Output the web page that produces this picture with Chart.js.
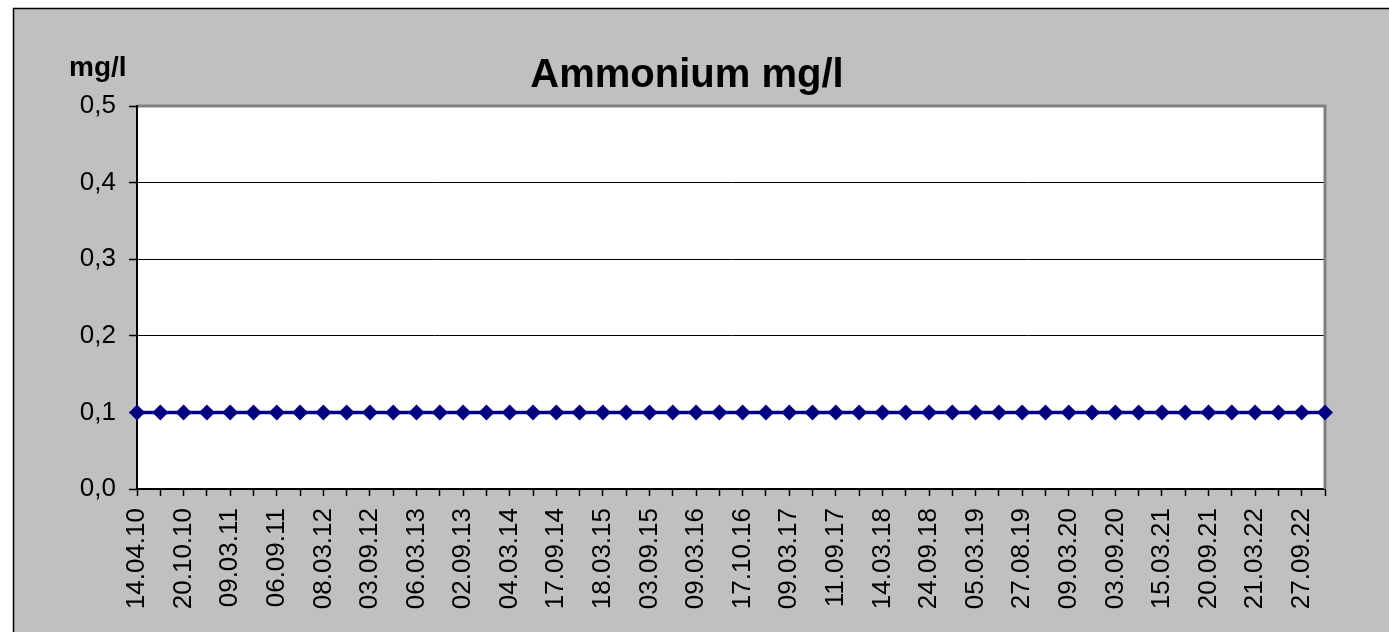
<!DOCTYPE html>
<html>
<head>
<meta charset="utf-8">
<script src="https://cdn.jsdelivr.net/npm/chart.js@4"></script>
<style>
	html, body { margin: 0; padding: 0; background: #fff; }
</style>
</head>
<body>
<canvas id="myChart" width="1389" height="632"></canvas>
<script>
	// sampling dates shown on the axis (every second point is labelled)
	const dateLabels = ['14.04.10', '20.10.10', '09.03.11', '06.09.11', '08.03.12', '03.09.12', '06.03.13', '02.09.13',
		'04.03.14', '17.09.14', '18.03.15', '03.09.15', '09.03.16', '17.10.16', '09.03.17', '11.09.17',
		'14.03.18', '24.09.18', '05.03.19', '27.08.19', '09.03.20', '03.09.20', '15.03.21', '20.09.21',
		'21.03.22', '27.09.22'];
	const ammonium = [0.1, 0.1, 0.1, 0.1, 0.1, 0.1, 0.1, 0.1, 0.1, 0.1, 0.1, 0.1, 0.1,
		0.1, 0.1, 0.1, 0.1, 0.1, 0.1, 0.1, 0.1, 0.1, 0.1, 0.1, 0.1, 0.1,
		0.1, 0.1, 0.1, 0.1, 0.1, 0.1, 0.1, 0.1, 0.1, 0.1, 0.1, 0.1, 0.1,
		0.1, 0.1, 0.1, 0.1, 0.1, 0.1, 0.1, 0.1, 0.1, 0.1, 0.1, 0.1, 0.1];
	const yTicks = [0, 0.1, 0.2, 0.3, 0.4, 0.5];

	const chartTitle = 'Ammonium mg/l';
	const unitLabel = 'mg/l';
	const fontFamily = 'Arial, "Liberation Sans", sans-serif';

	// the unlabelled points in between have no readable date
	const labels = dateLabels.flatMap(d => [d, '']);

	const excelFrame = {
		id: 'excelFrame',
		beforeDraw(chart) {
			const c = chart.ctx;
			const a = chart.chartArea;
			c.save();
			c.fillStyle = '#fff';
			c.fillRect(0, 0, chart.width, chart.height);
			c.fillStyle = '#c0c0c0';
			c.fillRect(13, 8, chart.width, chart.height);
			c.strokeStyle = '#000';
			c.lineWidth = 1.5;
			c.strokeRect(13.5, 8.5, chart.width + 20, chart.height + 20);
			c.fillStyle = '#fff';
			c.fillRect(a.left, a.top, a.right - a.left, a.bottom - a.top);

			c.fillStyle = '#000';
			c.textBaseline = 'alphabetic';
			c.font = 'bold 40px ' + fontFamily;
			c.textAlign = 'center';
			c.fillText(chartTitle, 687, 87);
			c.font = 'bold 28px ' + fontFamily;
			c.textAlign = 'left';
			c.fillText(unitLabel, 69, 76);
			c.restore();
		},
		beforeDatasetsDraw(chart) {
			const c = chart.ctx;
			const a = chart.chartArea;
			c.save();
			c.strokeStyle = '#808080';
			c.lineWidth = 3;
			c.beginPath();
			c.moveTo(a.left + 1, a.top);
			c.lineTo(a.right, a.top);
			c.lineTo(a.right, a.bottom);
			c.stroke();
			c.restore();
		}
	};

	var ctx = document.getElementById('myChart').getContext('2d');
	var myChart = new Chart(ctx, {
		type: 'line',
		data: {
			labels: labels,
			datasets: [{
				label: chartTitle,
				data: ammonium,
				borderColor: '#000080',
				backgroundColor: '#000080',
				borderWidth: 3.5,
				pointStyle: 'rectRot',
				pointRadius: 8,
				pointBorderWidth: 0,
				tension: 0
			}]
		},
		options: {
			responsive: false,
			animation: false,
			layout: {
				padding: { top: 106, right: 64, left: 0, bottom: 0 }
			},
			plugins: {
				legend: { display: false },
				title: { display: false },
				tooltip: { enabled: false }
			},
			scales: {
				x: {
					offset: false,
					grid: {
						drawOnChartArea: false,
						drawTicks: true,
						tickLength: 7,
						tickColor: '#000',
						tickWidth: 1.5
					},
					border: { color: '#000', width: 2 },
					ticks: {
						autoSkip: false,
						maxRotation: 90,
						minRotation: 90,
						padding: 12,
						color: '#000',
						font: { family: fontFamily, size: 26 }
					},
					afterFit: (s) => { s.height = 143; }
				},
				y: {
					min: yTicks[0],
					max: yTicks[yTicks.length - 1],
					afterBuildTicks: (s) => { s.ticks = yTicks.map(v => ({ value: v })); },
					ticks: {
						padding: 13,
						color: '#000',
						font: { family: fontFamily, size: 26 },
						callback: (v) => Number(v).toFixed(1).replace('.', ',')
					},
					grid: {
						color: '#000',
						lineWidth: 1,
						tickColor: '#000',
						tickLength: 8,
						tickWidth: 1.5
					},
					border: { color: '#000', width: 2 },
					afterFit: (s) => { s.width = 137; }
				}
			}
		},
		plugins: [excelFrame]
	});
</script>
</body>
</html>
